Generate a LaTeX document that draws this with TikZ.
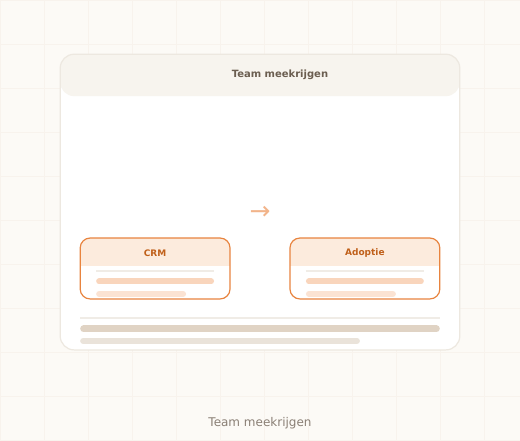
\documentclass[tikz,border=0pt]{standalone}
\usepackage{fontspec}
\setmainfont{DejaVu Sans}

\definecolor{pagebg}{HTML}{FCFAF6}
\definecolor{gridln}{HTML}{F8F3ED}
\definecolor{cardln}{HTML}{EDE8E0}
\definecolor{cardhd}{HTML}{F7F4EE}
\definecolor{titletx}{HTML}{6B5E50}
\definecolor{orgln}{HTML}{E8843F}
\definecolor{orghd}{HTML}{FCEBDD}
\definecolor{orgtx}{HTML}{C0601A}
\definecolor{orgbar}{HTML}{F9D5BC}
\definecolor{orgbarb}{HTML}{FBE3D3}
\definecolor{sepln}{HTML}{F0ECE6}
\definecolor{tanbar}{HTML}{E0D3C4}
\definecolor{tanbarb}{HTML}{EAE3DA}
\definecolor{arrowtx}{HTML}{F2B48A}
\definecolor{captx}{HTML}{8A7F75}

\begin{document}
\begin{tikzpicture}[x=1pt,y=-1pt]
\tikzstyle{card}=[rounded corners=14pt,draw=cardln,line width=1.2pt]
\tikzstyle{subcard}=[rounded corners=10pt,draw=orgln,line width=1.2pt]
\tikzstyle{bar}=[line cap=round]
\tikzstyle{label}=[inner sep=0pt,font=\bfseries\fontsize{9}{10}\selectfont,text=orgtx]
% background and grid
\fill[pagebg] (0,0) rectangle (520,440);
\foreach \g in {0,44,...,520} \draw[gridln,line width=0.5pt] (\g,0) -- (\g,440);
\foreach \g in {0,44,...,440} \draw[gridln,line width=0.5pt] (0,\g) -- (520,\g);
\useasboundingbox (0,0) rectangle (520,440);

% outer card
\fill[white,rounded corners=14pt] (60,54) rectangle (460,350);
\fill[cardhd,rounded corners=14pt] (60,54) rectangle (460,96);
\draw[card] (60,54) rectangle (460,350);
\node[inner sep=0pt,font=\bfseries\fontsize{10}{12}\selectfont,text=titletx](title) at (280,74.5) {Team meekrijgen};

% arrow
\node[inner sep=0pt,font=\fontsize{25}{27}\selectfont,text=arrowtx](arrow) at (260,212.5) {→};

% two boxes
\foreach \bx/\name/\txt in {80/crm/CRM,290/adoptie/Adoptie}{
  \fill[white,rounded corners=10pt] (\bx,238) rectangle ++(150,61);
  \begin{scope}
    \clip[rounded corners=10pt] (\bx,238) rectangle ++(150,61);
    \fill[orghd] (\bx,238) rectangle ++(150,28);
  \end{scope}
  \draw[subcard] (\bx,238) rectangle ++(150,61);
  \node[label](\name) at (\bx+75,253) {\txt};
  \draw[sepln,line width=1.5pt] (\bx+16,271) -- ++(118,0);
  \draw[bar,orgbar,line width=6pt] (\bx+19,281.5) -- ++(112,0);
  \draw[bar,orgbarb,line width=6pt] (\bx+19,294) -- ++(84,0);
}

% footer lines
\draw[sepln,line width=1.5pt] (80,318) -- (440,318);
\draw[bar,tanbar,line width=7pt] (83.5,329) -- (436.5,329);
\draw[bar,tanbarb,line width=6pt] (83,341) -- (357,341);

% caption
\node[inner sep=0pt,font=\fontsize{12}{14}\selectfont,text=captx](caption) at (260,423) {Team meekrijgen};
\end{tikzpicture}
\end{document}
